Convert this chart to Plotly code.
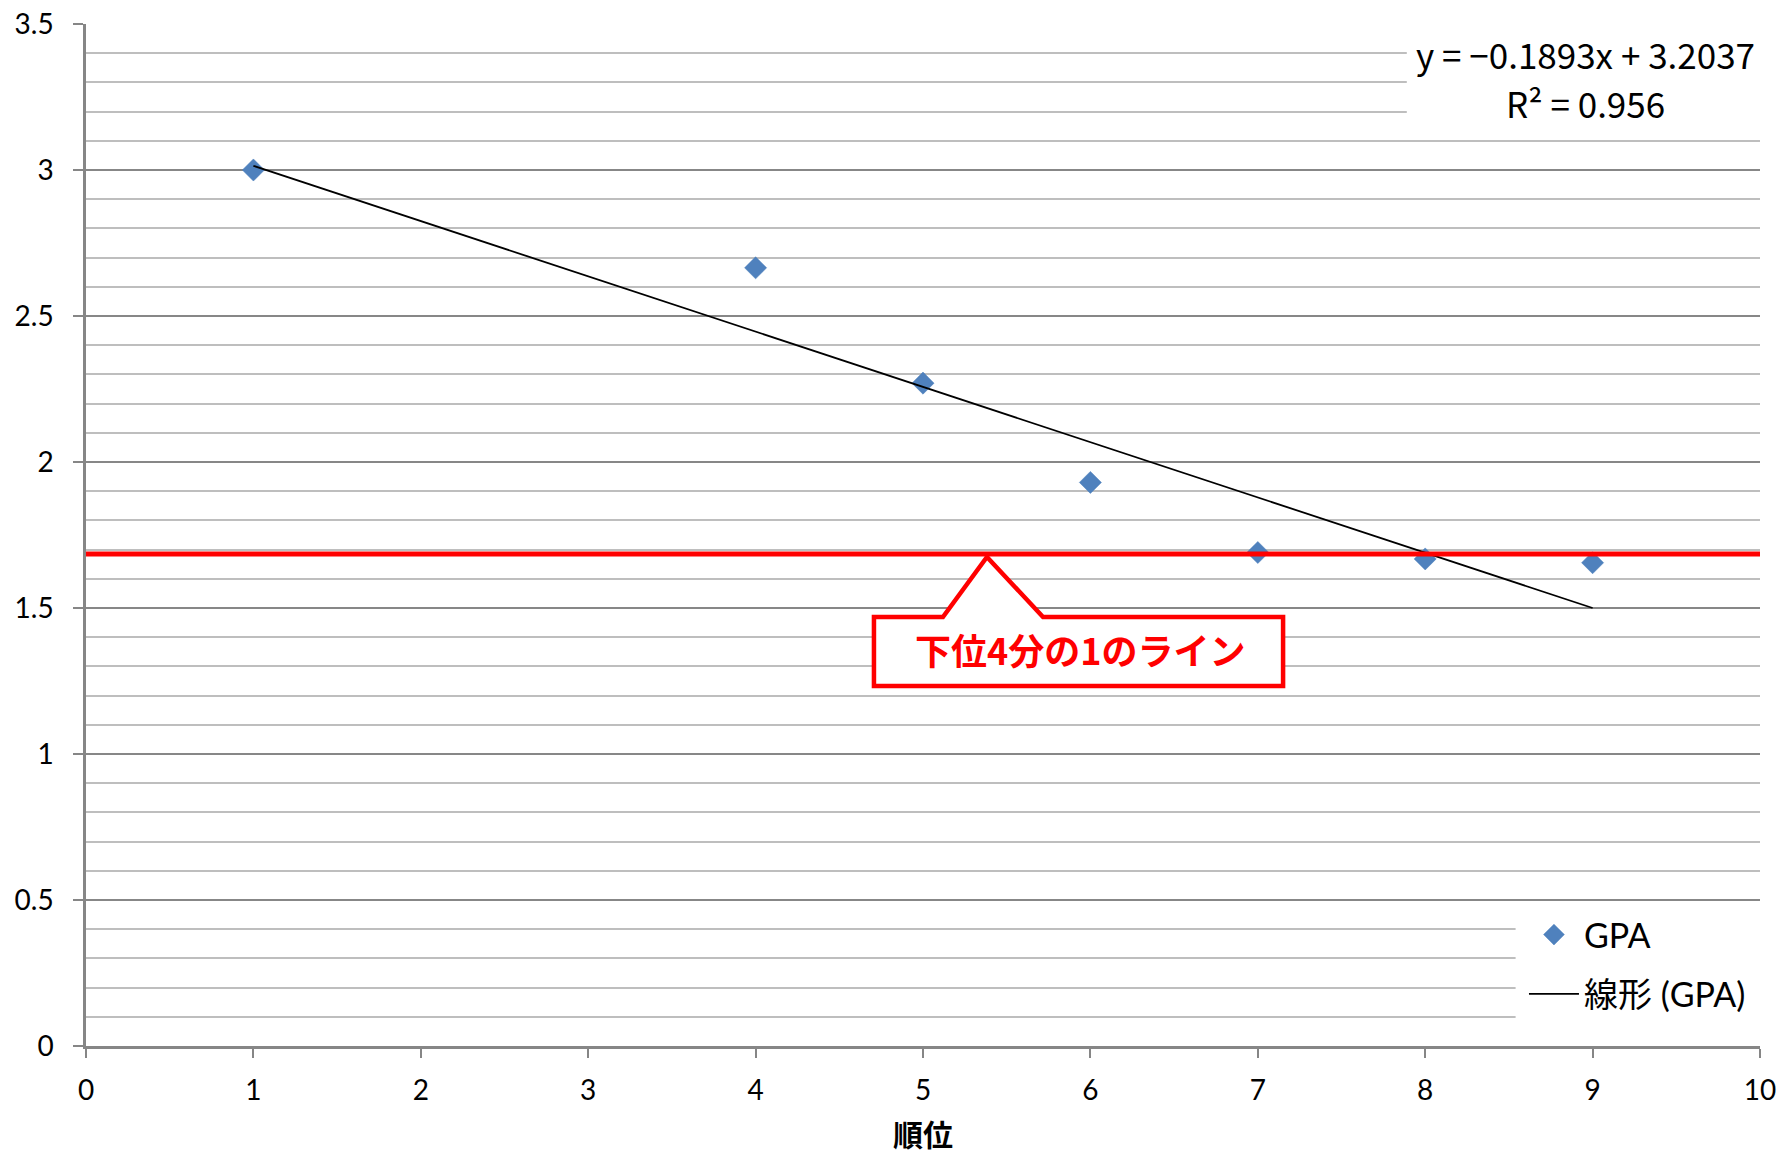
import plotly.graph_objects as go

# ---------------- data ----------------
rank = [1, 4, 5, 6, 7, 8, 9]
gpa = [3.0, 2.665, 2.27, 1.93, 1.69, 1.668, 1.655]
trend_slope = -0.1893
trend_intercept = 3.2037
trend_r2 = 0.956
lower_quartile = 1.685
x_ticks = [0, 1, 2, 3, 4, 5, 6, 7, 8, 9, 10]
y_ticks = [0, 0.5, 1, 1.5, 2, 2.5, 3, 3.5]
series_name = "GPA"
trend_name = "線形 (GPA)"
x_title = "順位"
callout_text = "下位4分の1のライン"

# ---------------- derived ----------------
trend_x = [min(rank), max(rank)]
trend_y = [trend_slope * v + trend_intercept for v in trend_x]
sign = "−" if trend_slope < 0 else "+"
eq_line1 = f"y = {sign}{abs(trend_slope):.4f}x + {trend_intercept:.4f}"
eq_line2 = f"R² = {trend_r2:.3f}"

TICK_FONT = "Lato, 'Noto Sans CJK JP', sans-serif"
JP_FONT = "'Noto Sans CJK JP', sans-serif"

fig = go.Figure()

fig.add_trace(go.Scatter(
    x=rank, y=gpa, mode="markers", name=series_name,
    marker=dict(symbol="diamond", size=17, color="#4F81BD",
                line=dict(color="#4A7EBB", width=0.5)),
    legendgroup="a",
))
fig.add_trace(go.Scatter(
    x=trend_x, y=trend_y, mode="lines", name=trend_name,
    line=dict(color="#000000", width=1.8),
    legendgroup="b",
))

# white backing boxes for the trendline label and legend (cover gridlines)
fig.add_shape(type="rect", xref="x", yref="y", x0=7.89, x1=10, y0=3.13, y1=3.47,
              fillcolor="white", line=dict(width=0), layer="between")
fig.add_shape(type="rect", xref="x", yref="y", x0=8.54, x1=10, y0=0.04, y1=0.46,
              fillcolor="white", line=dict(width=0), layer="between")

# lower-quartile red line
fig.add_shape(type="line", xref="x domain", yref="y", x0=0, x1=1,
              y0=lower_quartile, y1=lower_quartile,
              line=dict(color="#FF0000", width=5), layer="above")

# callout box with pointer
cx0, cx1, cy0, cy1 = 4.707, 7.151, 1.233, 1.469
pl, pt, pr, ptip = 5.119, 5.382, 5.717, 1.675
path = (f"M {cx0},{cy1} L {pl},{cy1} L {pt},{ptip} L {pr},{cy1} "
        f"L {cx1},{cy1} L {cx1},{cy0} L {cx0},{cy0} Z")
fig.add_shape(type="path", xref="x", yref="y", path=path,
              fillcolor="white", line=dict(color="#FF0000", width=4.5),
              layer="above")
fig.add_annotation(x=5.935, y=1.358, xref="x", yref="y", text=f"<b>{callout_text}</b>",
                   showarrow=False, font=dict(family=JP_FONT, size=36, color="#FF0000"))

# trendline equation label
fig.add_annotation(x=8.96, y=3.399, xref="x", yref="y", text=eq_line1, showarrow=False,
                   font=dict(family=JP_FONT, size=35, color="#000000"))
fig.add_annotation(x=8.96, y=3.231, xref="x", yref="y", text=eq_line2, showarrow=False,
                   font=dict(family=JP_FONT, size=35, color="#000000"))

fig.update_layout(
    width=1780, height=1155,
    margin=dict(l=86, r=20, t=24, b=109, autoexpand=False),
    paper_bgcolor="white", plot_bgcolor="white",
    showlegend=True,
    legend=dict(
        x=0.859, y=0.137, xanchor="left", yanchor="top",
        bgcolor="rgba(0,0,0,0)", borderwidth=0,
        font=dict(family=TICK_FONT, size=34, color="#000000"),
        traceorder="grouped", tracegroupgap=12, itemwidth=50,
    ),
    xaxis=dict(
        range=[0, 10], tickvals=x_ticks, ticktext=[str(v) for v in x_ticks],
        showgrid=False, zeroline=False, automargin=False,
        showline=True, linecolor="#868686", linewidth=2.5,
        ticks="outside", ticklen=9, tickcolor="#868686", tickwidth=2,
        ticklabelstandoff=9,
        tickfont=dict(family=TICK_FONT, size=28, color="#000000"),
        title=dict(text=f"<b>{x_title}</b>", standoff=21,
                   font=dict(family=JP_FONT, size=30, color="#000000")),
    ),
    yaxis=dict(
        range=[0, 3.5], tickvals=y_ticks, ticktext=[f"{v:g}" for v in y_ticks],
        showgrid=True, gridcolor="#878787", gridwidth=2,
        zeroline=False, automargin=False,
        showline=True, linecolor="#868686", linewidth=2.5,
        ticks="outside", ticklen=10, tickcolor="#868686", tickwidth=2,
        ticklabelstandoff=14,
        tickfont=dict(family=TICK_FONT, size=28, color="#000000"),
        minor=dict(dtick=0.1, showgrid=True, gridcolor="#BEBEBE", gridwidth=1.5,
                   ticks=""),
    ),
)

fig.write_html("out.html", config={"displayModeBar": False},
               post_script="document.body.style.margin='0';document.body.style.overflow='hidden';")
